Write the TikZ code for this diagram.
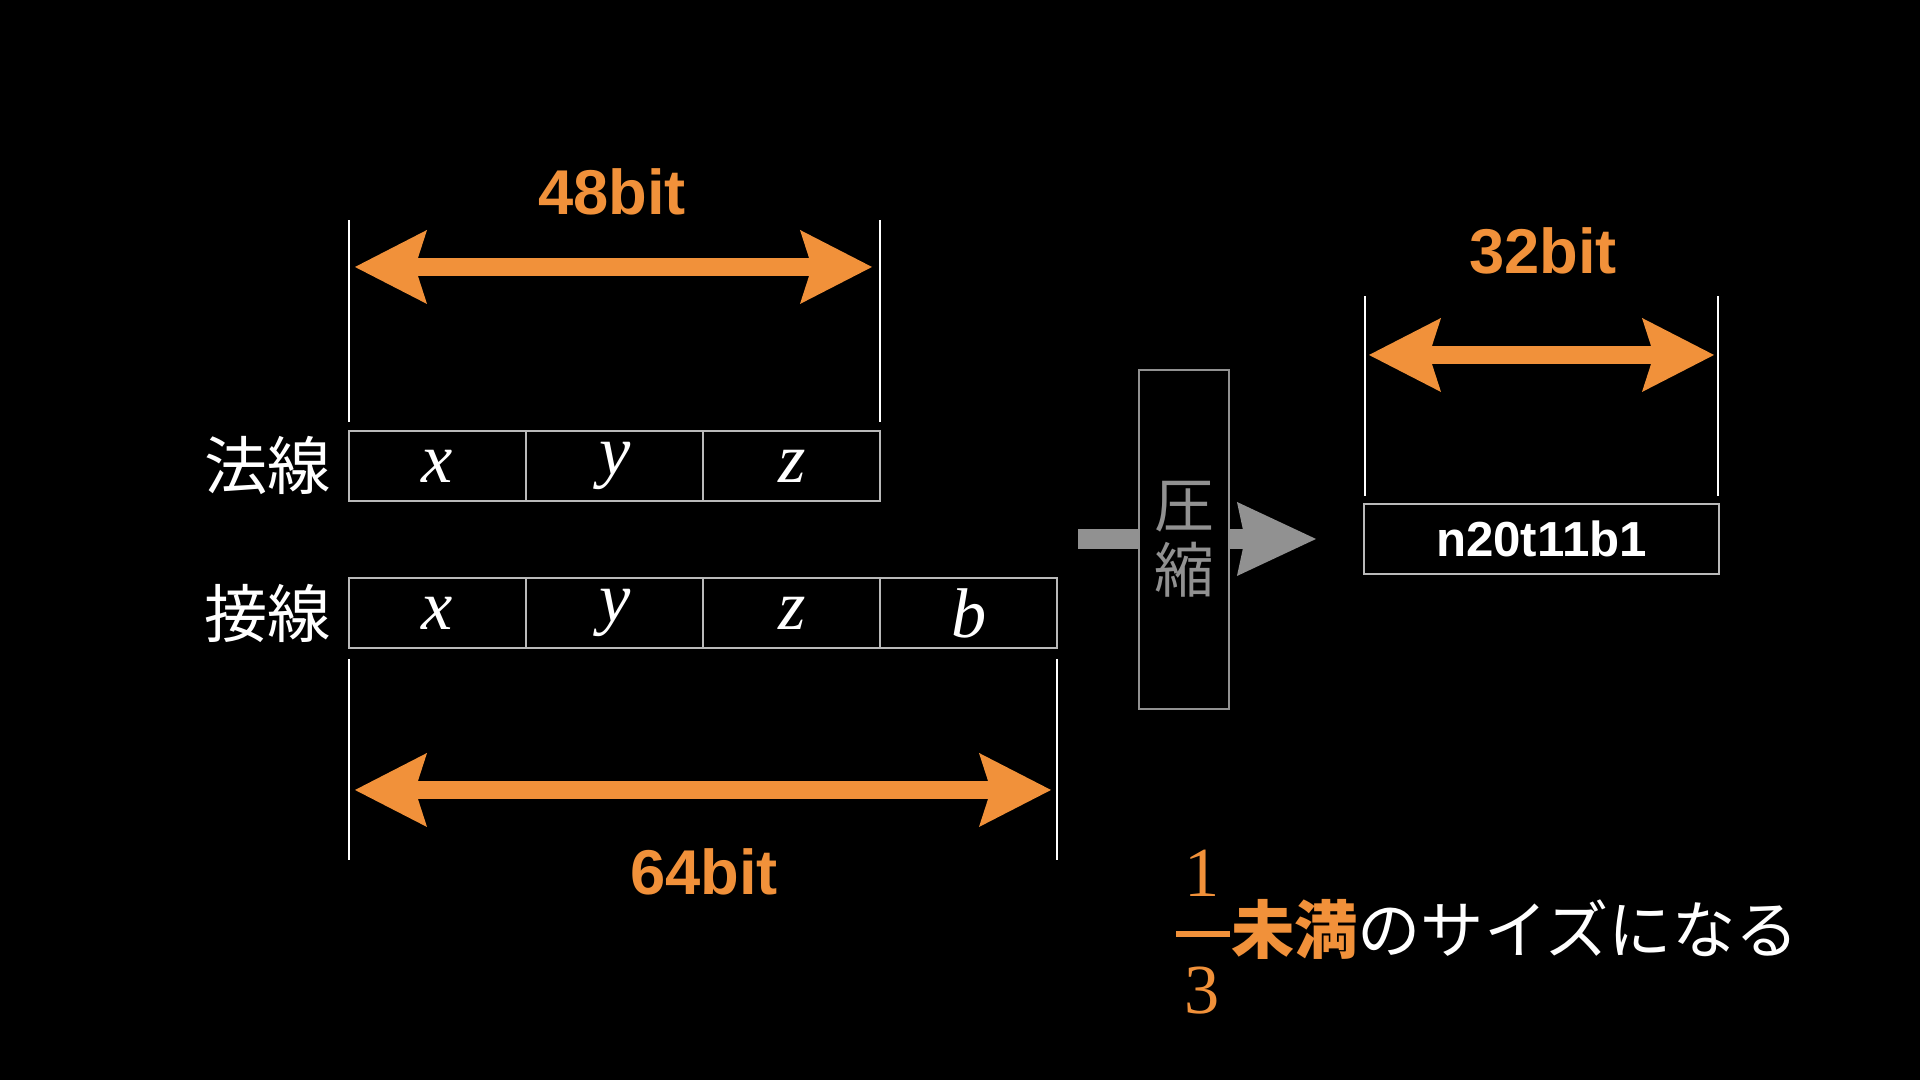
\documentclass[tikz,border=0pt]{standalone}
\usepackage{fontspec}
\setmainfont{Liberation Serif}
\setsansfont{Liberation Sans}
\newfontfamily\jp{Noto Sans CJK JP}
\usetikzlibrary{positioning,arrows.meta}
\definecolor{bitorange}{RGB}{241,145,58}
\definecolor{cellgray}{RGB}{185,185,185}
\definecolor{packgray}{RGB}{145,145,145}

\begin{document}
\begin{tikzpicture}[x=0.01cm,y=0.01cm,
  every node/.style={inner sep=0pt,outer sep=0pt},
  cell/.style={draw=cellgray,line width=0.02cm,minimum width=1.77cm,minimum height=0.7cm,
    font=\fontsize{20}{24}\selectfont\itshape,text=white},
  rowlabel/.style={font=\jp\fontsize{18}{22}\selectfont,text=white},
  dimline/.style={draw=white,line width=0.015cm},
  bitarrow/.style={draw=bitorange,line width=0.18cm,
    {Stealth[length=0.72cm,width=0.74cm,inset=0.12cm,line width=0pt]}-{Stealth[length=0.72cm,width=0.74cm,inset=0.12cm,line width=0pt]}},
  bitlabel/.style={font=\sffamily\bfseries\fontsize{18}{22}\selectfont,text=bitorange},
  packarrow/.style={draw=packgray,line width=0.2cm,
    -{Stealth[length=0.79cm,width=0.74cm,inset=0.08cm,line width=0pt]}},
  fracnum/.style={font=\fontsize{20}{24}\selectfont,text=bitorange}]
\useasboundingbox (0,0) rectangle (1920,1080);
\fill[black] (0,0) rectangle (1920,1080);

\node[cell] (nx) at (437.5,614) {x};
\node[cell,right=0pt of nx] (ny) {y};
\node[cell,right=0pt of ny] (nz) {z};
\node[rowlabel,left=0.18cm of nx] (nlabel) {法線};

\node[cell] (tx) at (437.5,467) {x};
\node[cell,right=0pt of tx] (ty) {y};
\node[cell,right=0pt of ty] (tz) {z};
\node[cell,right=0pt of tz] (tb) {b};
\node[rowlabel,left=0.18cm of tx] (tlabel) {接線};

\coordinate (n48a) at (349,658);
\coordinate (n48b) at (349,860);
\coordinate (n48c) at (880,658);
\coordinate (n48d) at (880,860);
\draw[dimline] (n48a) -- (n48b);
\draw[dimline] (n48c) -- (n48d);
\coordinate (a48l) at (355,813);
\coordinate (a48r) at (872,813);
\draw[bitarrow] (a48l) -- (a48r);
\node[bitlabel] (l48) at (612,888) {48bit};

\coordinate (t64a) at (349,421);
\coordinate (t64b) at (349,220);
\coordinate (t64c) at (1057,421);
\coordinate (t64d) at (1057,220);
\draw[dimline] (t64a) -- (t64b);
\draw[dimline] (t64c) -- (t64d);
\coordinate (a64l) at (355,290);
\coordinate (a64r) at (1051,290);
\draw[bitarrow] (a64l) -- (a64r);
\node[bitlabel] (l64) at (704,208) {64bit};

\coordinate (gin) at (1078,541);
\coordinate (gout) at (1316,541);
\draw[packarrow] (gin) -- (gout);
\node[draw=packgray,fill=black,line width=0.02cm,minimum width=0.9cm,minimum height=3.39cm,
  align=center,font=\jp\fontsize{17}{18.5}\selectfont,text=packgray] (pack) at (1184,540.5) {圧\\縮};

\node[draw=cellgray,line width=0.02cm,minimum width=3.55cm,minimum height=0.7cm,
  font=\sffamily\bfseries\fontsize{14}{17}\selectfont,text=white] (code) at (1541.5,541) {n20t11b1};
\coordinate (c32a) at (1365,584);
\coordinate (c32b) at (1365,784);
\coordinate (c32c) at (1718,584);
\coordinate (c32d) at (1718,784);
\draw[dimline] (c32a) -- (c32b);
\draw[dimline] (c32c) -- (c32d);
\coordinate (a32l) at (1369,725);
\coordinate (a32r) at (1714,725);
\draw[bitarrow] (a32l) -- (a32r);
\node[bitlabel] (l32) at (1543,829) {32bit};

\node[fracnum] (one) at (1202,207) {1};
\node[fracnum] (three) at (1202,89) {3};
\coordinate (barl) at (1176,146);
\coordinate (barr) at (1230,146);
\draw[bitorange,line width=0.06cm] (barl) -- (barr);
\node[anchor=west,font=\jp\bfseries\fontsize{18}{22}\selectfont,text=bitorange] (less) at (1231,151) {未満};
\node[anchor=base west,font=\jp\fontsize{18}{22}\selectfont,text=white] (rest) at (less.base east) {のサイズになる};
\end{tikzpicture}
\end{document}
